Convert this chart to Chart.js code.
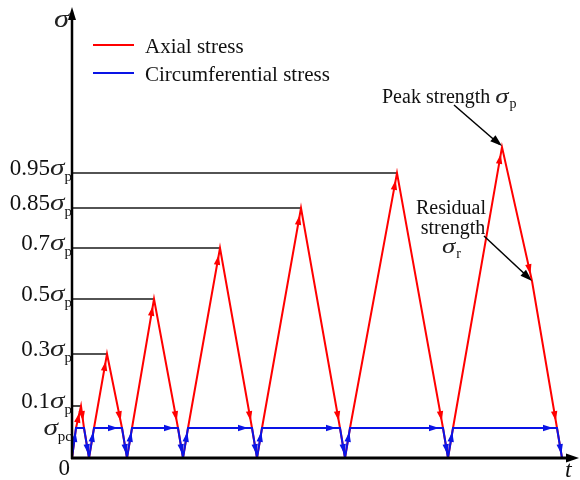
<!DOCTYPE html>
<html>
<head>
<meta charset="utf-8">
<script src="https://cdn.jsdelivr.net/npm/chart.js@4.4.0/dist/chart.umd.min.js"></script>
<style>
  html, body { margin: 0; padding: 0; background: #fff; }
</style>
</head>
<body>
<canvas id="chart" width="580" height="480"></canvas>
<script>
// schematic units: time along the axis, stress above the axis
const axialT = [0, 4, 9, 12, 17, 22, 35, 50, 55, 60, 82, 106, 111, 116, 148, 180, 185, 190, 229, 268, 273, 278, 325, 371, 376, 381, 430, 460, 485, 490];
const axialS = [0, 30, 52, 30, 0, 30, 104, 30, 0, 30, 159, 30, 0, 30, 210, 30, 0, 30, 250, 30, 0, 30, 285, 30, 0, 30, 311, 177, 30, 0];
const circT = [0, 4, 12, 17, 22, 50, 55, 60, 106, 111, 116, 180, 185, 190, 268, 273, 278, 371, 376, 381, 485, 490];
const circS = [0, 30, 30, 0, 30, 30, 0, 30, 30, 0, 30, 30, 0, 30, 30, 0, 30, 30, 0, 30, 30, 0];

const levelLabels = ['0.1', '0.3', '0.5', '0.7', '0.85', '0.95'];
const levelValues = [52, 104, 159, 210, 250, 285];
const levelEndT = [9, 35, 82, 148, 229, 325];
const pcLevel = 30;
const peakPoint = [430, 311];
const residualPoint = [460, 177];
const legendLabels = ['Axial stress', 'Circumferential stress'];

const RED = '#ff0000';
const BLUE = '#0a14e6';
const SERIF = '"Liberation Serif", "Times New Roman", serif';

function pts(xs, ys) {
    return xs.map((x, i) => ({ x: x, y: ys[i] }));
}

const datasets = [];
datasets.push({
    label: 'Circumferential stress', data: pts(circT, circS),
    borderColor: BLUE, borderWidth: 2, order: 0,
    arrows: true, arrowOffset: 4
});
datasets.push({
    label: 'Axial stress', data: pts(axialT, axialS),
    borderColor: RED, borderWidth: 2, order: 1,
    arrows: true, arrowOffset: 7, arrowSkipBelow: pcLevel
});
levelValues.forEach((v, i) => {
    datasets.push({
        label: 'level ' + levelLabels[i],
        data: [{ x: 0, y: v }, { x: levelEndT[i], y: v }],
        borderColor: '#1a1a1a', borderWidth: 1.6, order: 2
    });
});

function arrowHead(ctx, x0, y0, x1, y1, len, half, color) {
    const a = Math.atan2(y1 - y0, x1 - x0);
    const c = Math.cos(a), s = Math.sin(a);
    ctx.save();
    ctx.fillStyle = color;
    ctx.beginPath();
    ctx.moveTo(x1, y1);
    ctx.lineTo(x1 - len * c + half * s, y1 - len * s - half * c);
    ctx.lineTo(x1 - len * c - half * s, y1 - len * s + half * c);
    ctx.closePath();
    ctx.fill();
    ctx.restore();
}

// italic sigma, a bit wider than the serif one, returns its width
function drawSigma(ctx, x, base, size, measureOnly) {
    const stretch = 1.22;
    ctx.save();
    ctx.font = 'italic ' + size + 'px ' + SERIF;
    const w = ctx.measureText('σ').width * stretch;
    if (!measureOnly) {
        ctx.textAlign = 'left';
        ctx.textBaseline = 'alphabetic';
        ctx.fillStyle = '#222';
        ctx.translate(x, base);
        ctx.scale(stretch, 1);
        ctx.fillText('σ', 0, 0);
    }
    ctx.restore();
    return w;
}

// stress label like 0.95σp with a subscript, right aligned at x
function sigmaLabel(ctx, xRight, base, num, sub) {
    const numFont = '23px ' + SERIF;
    const subFont = '15px ' + SERIF;
    ctx.font = subFont;
    const wSub = ctx.measureText(sub).width;
    const wSig = drawSigma(ctx, 0, 0, 24, true);
    ctx.font = numFont;
    const wNum = ctx.measureText(num).width;
    let x = xRight - wSub - wSig - wNum;
    ctx.textAlign = 'left';
    ctx.textBaseline = 'alphabetic';
    ctx.fillStyle = '#111';
    ctx.font = numFont;
    ctx.fillText(num, x, base);
    x += wNum;
    drawSigma(ctx, x, base, 24);
    x += wSig;
    ctx.font = subFont;
    ctx.fillStyle = '#111';
    ctx.fillText(sub, x, base + 6);
}

const schematicPlugin = {
    id: 'schematic',
    afterDatasetDraw(chart, args) {
        const ds = chart.data.datasets[args.index];
        if (!ds.arrows) return;
        const ctx = chart.ctx;
        const els = args.meta.data;
        for (let i = 1; i < els.length; i++) {
            const p0 = els[i - 1], p1 = els[i];
            const dx = p1.x - p0.x, dy = p1.y - p0.y;
            const len = Math.hypot(dx, dy);
            if (len < 12) continue;
            if (ds.arrowSkipBelow !== undefined &&
                Math.max(ds.data[i - 1].y, ds.data[i].y) <= ds.arrowSkipBelow) continue;
            const off = ds.arrowOffset;
            const tx = p1.x - dx / len * off, ty = p1.y - dy / len * off;
            arrowHead(ctx, p0.x, p0.y, tx, ty, 10, 3.2, ds.borderColor);
        }
    },
    afterDraw(chart) {
        const ctx = chart.ctx;
        const xs = chart.scales.x, ys = chart.scales.y;
        const area = chart.chartArea;
        const x0 = xs.getPixelForValue(0), y0 = ys.getPixelForValue(0);

        // axes with arrows
        ctx.save();
        ctx.strokeStyle = '#000';
        ctx.lineWidth = 2.5;
        ctx.beginPath();
        ctx.moveTo(x0, y0 + 1);
        ctx.lineTo(x0, area.top + 6);
        ctx.stroke();
        arrowHead(ctx, x0, y0, x0, area.top - 3, 13, 4, '#000');
        ctx.lineWidth = 3;
        ctx.beginPath();
        ctx.moveTo(x0 - 1, y0);
        ctx.lineTo(area.right - 8, y0);
        ctx.stroke();
        arrowHead(ctx, x0, y0, area.right + 1, y0, 13, 4.5, '#000');
        ctx.restore();

        // axis titles
        ctx.save();
        drawSigma(ctx, x0 - 18, area.top + 17, 25);
        ctx.fillStyle = '#111';
        ctx.textBaseline = 'alphabetic';
        ctx.textAlign = 'left';
        ctx.font = 'italic 24px ' + SERIF;
        ctx.fillText('t', area.right - 13, y0 + 19);
        ctx.font = '23px ' + SERIF;
        ctx.textAlign = 'right';
        ctx.fillText('0', x0 - 2, y0 + 17);
        ctx.restore();

        // stress level labels
        levelValues.forEach((v, i) => {
            sigmaLabel(ctx, x0, ys.getPixelForValue(v) + 2, levelLabels[i], 'p');
        });
        sigmaLabel(ctx, x0, ys.getPixelForValue(pcLevel) + 7, '', 'pc');

        // legend
        ctx.save();
        const legendColors = [RED, BLUE];
        legendLabels.forEach((lab, i) => {
            const ly = 45 + i * 28;
            ctx.strokeStyle = legendColors[i];
            ctx.lineWidth = 2;
            ctx.beginPath();
            ctx.moveTo(93, ly);
            ctx.lineTo(134, ly);
            ctx.stroke();
            ctx.fillStyle = '#111';
            ctx.font = '21px ' + SERIF;
            ctx.textAlign = 'left';
            ctx.textBaseline = 'alphabetic';
            ctx.fillText(lab, 145, ly + 8);
        });
        ctx.restore();

        // peak strength note
        const px = xs.getPixelForValue(peakPoint[0]), py = ys.getPixelForValue(peakPoint[1]);
        ctx.save();
        ctx.fillStyle = '#111';
        ctx.font = '20px ' + SERIF;
        ctx.textAlign = 'left';
        ctx.textBaseline = 'alphabetic';
        const peakText = 'Peak strength ';
        const tx = px - 120, tb = py - 44;
        ctx.fillText(peakText, tx, tb);
        const w = ctx.measureText(peakText).width;
        const ws = drawSigma(ctx, tx + w, tb, 22);
        ctx.font = '14px ' + SERIF;
        ctx.fillStyle = '#111';
        ctx.fillText('p', tx + w + ws + 1, tb + 5);
        ctx.strokeStyle = '#000';
        ctx.lineWidth = 1.5;
        ctx.beginPath();
        ctx.moveTo(px - 48, py - 42);
        ctx.lineTo(px - 3, py - 3);
        ctx.stroke();
        arrowHead(ctx, px - 48, py - 42, px, py - 1, 12, 4, '#000');

        // residual strength note
        const rx = xs.getPixelForValue(residualPoint[0]), ry = ys.getPixelForValue(residualPoint[1]);
        ctx.font = '20px ' + SERIF;
        ctx.textAlign = 'center';
        ctx.fillText('Residual', rx - 81, ry - 67);
        ctx.fillText('strength', rx - 79, ry - 47);
        const wr = drawSigma(ctx, rx - 90, ry - 28, 22);
        ctx.font = '14px ' + SERIF;
        ctx.textAlign = 'left';
        ctx.fillStyle = '#111';
        ctx.fillText('r', rx - 90 + wr + 1, ry - 23);
        ctx.beginPath();
        ctx.moveTo(rx - 48, ry - 45);
        ctx.lineTo(rx - 3, ry - 3);
        ctx.stroke();
        arrowHead(ctx, rx - 48, ry - 45, rx, ry, 12, 4, '#000');
        ctx.restore();
    }
};

new Chart(document.getElementById('chart'), {
    type: 'line',
    data: { datasets: datasets },
    options: {
        responsive: false,
        animation: false,
        layout: { padding: { left: 72, right: 2, top: 10, bottom: 22 } },
        elements: {
            point: { radius: 0, hoverRadius: 0 },
            line: { tension: 0, fill: false, borderCapStyle: 'butt', borderJoinStyle: 'miter' }
        },
        scales: {
            x: { type: 'linear', min: 0, max: 506, display: false },
            y: { type: 'linear', min: 0, max: 448, display: false }
        },
        plugins: {
            legend: { display: false },
            tooltip: { enabled: false }
        }
    },
    plugins: [schematicPlugin]
});
</script>
</body>
</html>
